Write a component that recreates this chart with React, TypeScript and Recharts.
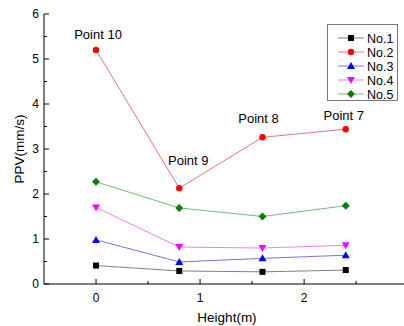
import { LineChart, Line, XAxis, YAxis, LabelList } from "recharts";

const heights = [0, 0.8, 1.6, 2.4];
const no1 = [0.41, 0.29, 0.27, 0.31];
const no2 = [5.2, 2.13, 3.26, 3.44];
const no3 = [0.98, 0.49, 0.57, 0.64];
const no4 = [1.7, 0.82, 0.8, 0.86];
const no5 = [2.27, 1.69, 1.5, 1.74];
const pointNames = ["Point 10", "Point 9", "Point 8", "Point 7"];
const xTicks = [0, 0.5, 1, 1.5, 2, 2.5];
const yTicks = [0, 0.5, 1, 1.5, 2, 2.5, 3, 3.5, 4, 4.5, 5, 5.5, 6];

const data = heights.map((h, i) => ({
  h,
  no1: no1[i],
  no2: no2[i],
  no3: no3[i],
  no4: no4[i],
  no5: no5[i],
}));

const series = [
  { key: "no1", name: "No.1", color: "#000000", line: "#808080", shape: "square" },
  { key: "no2", name: "No.2", color: "#ff0000", line: "#e07878", shape: "circle" },
  { key: "no3", name: "No.3", color: "#0000ff", line: "#7878e0", shape: "up" },
  { key: "no4", name: "No.4", color: "#ff00ff", line: "#f080f0", shape: "down" },
  { key: "no5", name: "No.5", color: "#008000", line: "#78b878", shape: "diamond" },
];

const FONT = "'Liberation Sans', Arial, sans-serif";

function Marker({ cx, cy, shape, color }: any) {
  if (cx == null || cy == null) return null;
  if (shape === "square") return <rect x={cx - 3} y={cy - 3} width={6} height={6} fill={color} />;
  if (shape === "circle") return <circle cx={cx} cy={cy} r={3.2} fill={color} />;
  if (shape === "up")
    return <polygon points={`${cx},${cy - 4} ${cx - 4},${cy + 3} ${cx + 4},${cy + 3}`} fill={color} />;
  if (shape === "down")
    return <polygon points={`${cx},${cy + 4} ${cx - 4},${cy - 3} ${cx + 4},${cy - 3}`} fill={color} />;
  return <polygon points={`${cx},${cy - 4} ${cx + 4},${cy} ${cx},${cy + 4} ${cx - 4},${cy}`} fill={color} />;
}

const isMajor = (v: number) => Math.abs(v - Math.round(v)) < 1e-6;

function LeftTick({ x, y, payload }: any) {
  const major = isMajor(payload.value);
  return (
    <g>
      <line x1={x} x2={x + (major ? 5 : 3)} y1={y} y2={y} stroke="#000" />
      {major && (
        <text x={x - 5} y={y + 4} textAnchor="end" fontSize={12} fontFamily={FONT} fill="#000">
          {payload.value}
        </text>
      )}
    </g>
  );
}

function RightTick({ x, y, payload }: any) {
  const major = isMajor(payload.value);
  return <line x1={x} x2={x - (major ? 5 : 3)} y1={y} y2={y} stroke="#000" />;
}

function BottomTick({ x, y, payload }: any) {
  const major = isMajor(payload.value);
  return (
    <g>
      <line x1={x} x2={x} y1={y} y2={y - (major ? 5 : 3)} stroke="#000" />
      {major && (
        <text x={x} y={y + 18} textAnchor="middle" fontSize={12} fontFamily={FONT} fill="#000">
          {payload.value}
        </text>
      )}
    </g>
  );
}

function TopTick({ x, y, payload }: any) {
  const major = isMajor(payload.value);
  return <line x1={x} x2={x} y1={y} y2={y + (major ? 5 : 3)} stroke="#000" />;
}

const labelOffsets = [
  { dx: 2, dy: -16 },
  { dx: 9, dy: -28 },
  { dx: -4, dy: -19 },
  { dx: -2, dy: -14 },
];

function PointLabel({ x, y, index }: any) {
  const o = labelOffsets[index];
  return (
    <text
      x={x + o.dx}
      y={y + o.dy + 5}
      textAnchor="middle"
      fontSize={13}
      fontFamily={FONT}
      fill="#000"
    >
      {pointNames[index]}
    </text>
  );
}

function LegendBox() {
  return (
    <svg width={72} height={78} style={{ display: "block" }}>
      <rect x={0.5} y={0.5} width={70} height={76} fill="#fff" stroke="#777" />
      {series.map((s, i) => {
        const cy = 14 + i * 14;
        return (
          <g key={s.key}>
            <line x1={11} x2={37} y1={cy} y2={cy} stroke={s.line} />
            <Marker cx={24} cy={cy} shape={s.shape} color={s.color} />
            <text x={40} y={cy + 4.5} fontSize={12.5} fontFamily={FONT} fill="#000">
              {s.name}
            </text>
          </g>
        );
      })}
    </svg>
  );
}

export default function App() {
  return (
    <div style={{ position: "absolute", left: 0, top: 0, width: 404, height: 326, overflow: "hidden", background: "#fff" }}>
      <LineChart width={404} height={326} data={data} margin={{ top: 14, right: 0, bottom: 0, left: 0 }}>
        <XAxis
          xAxisId="b"
          dataKey="h"
          type="number"
          domain={[-0.5, 2.96]}
          ticks={xTicks}
          allowDataOverflow
          height={42}
          tickSize={0}
          tickMargin={0}
          tickLine={false}
          axisLine={{ stroke: "#000" }}
          tick={<BottomTick />}
          interval={0}
          label={{ value: "Height(m)", position: "center", dx: 3, dy: 12, fontSize: 13.5, fontFamily: FONT, fill: "#000" }}
        />
        <XAxis
          xAxisId="t"
          orientation="top"
          type="number"
          domain={[-0.5, 2.96]}
          ticks={xTicks}
          allowDataOverflow
          height={0}
          tickSize={0}
          tickMargin={0}
          tickLine={false}
          axisLine={{ stroke: "#000" }}
          tick={<TopTick />}
          interval={0}
        />
        <YAxis
          yAxisId="l"
          type="number"
          domain={[0, 6]}
          ticks={yTicks}
          width={44}
          tickSize={0}
          tickMargin={0}
          tickLine={false}
          axisLine={{ stroke: "#000" }}
          tick={<LeftTick />}
          interval={0}
          label={{ value: "PPV(mm/s)", angle: -90, position: "center", dx: -3, fontSize: 13.5, fontFamily: FONT, fill: "#000" }}
        />
        <YAxis
          yAxisId="r"
          orientation="right"
          type="number"
          domain={[0, 6]}
          ticks={yTicks}
          width={0}
          tickSize={0}
          tickMargin={0}
          tickLine={false}
          axisLine={{ stroke: "#000" }}
          tick={<RightTick />}
          interval={0}
        />
        {series.map((s) => (
          <Line
            key={s.key}
            xAxisId="b"
            yAxisId="l"
            dataKey={s.key}
            name={s.name}
            stroke={s.line}
            strokeWidth={1}
            isAnimationActive={false}
            dot={(p: any) => <Marker key={`${s.key}-${p.index}`} cx={p.cx} cy={p.cy} shape={s.shape} color={s.color} />}
            activeDot={false}
          >
            {s.key === "no2" && <LabelList dataKey="no2" content={<PointLabel />} />}
          </Line>
        ))}
      </LineChart>
      <div style={{ position: "absolute", left: 327, top: 24 }}>
        <LegendBox />
      </div>
    </div>
  );
}
